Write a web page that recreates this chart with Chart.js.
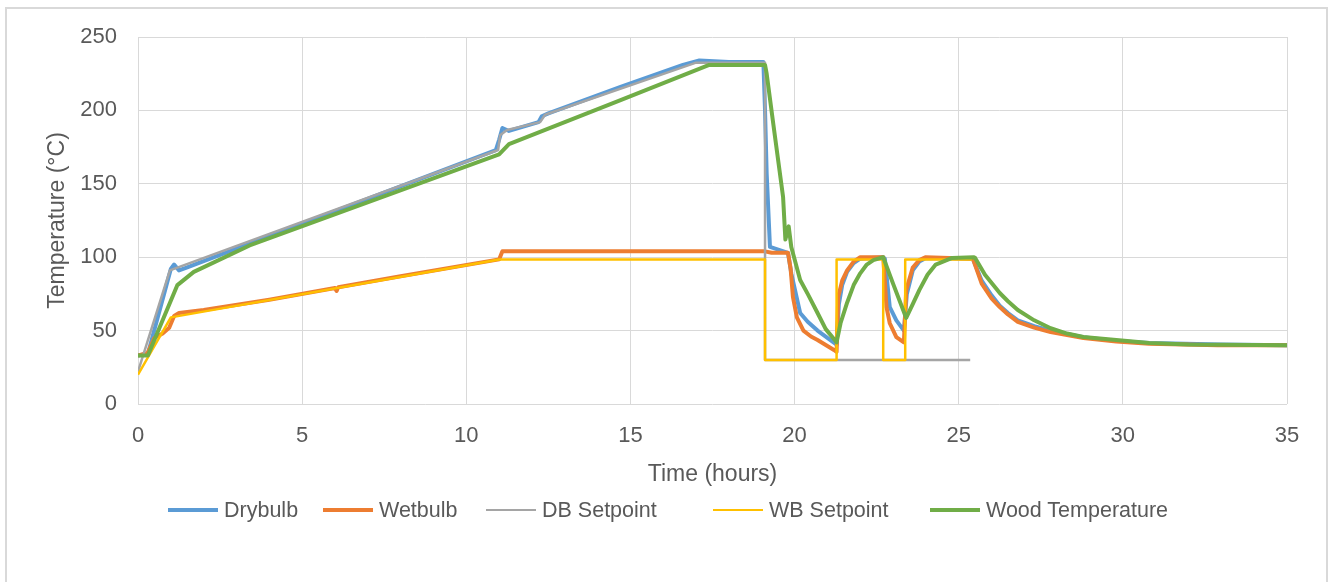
<!DOCTYPE html>
<html>
<head>
<meta charset="utf-8">
<script src="https://cdn.jsdelivr.net/npm/chart.js@4.4.1/dist/chart.umd.min.js"></script>
<style>
  body { margin: 0; background: #fff; font-family: "Liberation Sans", Arial, sans-serif; }
  #frame { position: absolute; left: 5px; top: 7px; width: 1319px; height: 600px; border: 2px solid #d9d9d9; }
  #myChart { position: absolute; left: 0; top: 0; }
  .leg { position: absolute; top: 497px; height: 26px; display: flex; align-items: center; font-size: 21.5px; color: #595959; white-space: nowrap; }
  .leg i { display: inline-block; width: 50px; margin-right: 6px; }
</style>
</head>
<body>
<div id="frame"></div>
<canvas id="myChart" width="1335" height="582"></canvas>
<div id="legend"></div>
<script>
const ctx = document.getElementById('myChart');

// time (hours) and temperature (°C)
const dryTime = [0, 0.3, 1.0, 1.1, 1.25, 1.5, 10.9, 11.0, 11.1, 11.3, 12.2, 12.3, 12.5, 14.7, 16.6, 17.1, 18, 19.05, 19.1, 19.15, 19.25, 19.8, 19.9, 20.17, 20.4, 20.7, 21.0, 21.28, 21.35, 21.45, 21.6, 21.8, 22.0, 22.7, 22.75, 22.9, 23.1, 23.33, 23.42, 23.6, 23.8, 24.0, 25.43, 25.7, 26.0, 26.25, 26.5, 26.8, 27.3, 27.8, 28.8, 29.8, 30.8, 33, 35];
const dryTemp = [33, 34, 92, 95, 91, 93, 173, 180, 188, 186, 192, 196, 198, 216, 231, 234, 233, 233, 200, 157, 107, 103, 89, 62, 56, 50, 45, 40.5, 68, 81, 90, 96, 99, 100, 99, 66, 57, 50, 75, 91, 97, 99.5, 99, 84, 74, 67, 62, 57, 53, 50, 45.5, 43, 41.5, 40.5, 40];

const wetTime = [0, 0.3, 0.5, 0.75, 0.95, 1.1, 1.25, 2, 4, 6, 6.05, 6.1, 8, 11.0, 11.1, 19.1, 19.3, 19.8, 19.88, 19.95, 20.07, 20.27, 20.5, 20.7, 21.0, 21.2, 21.28, 21.33, 21.45, 21.6, 21.8, 22.0, 22.7, 22.8, 22.9, 23.1, 23.33, 23.4, 23.6, 23.8, 24.0, 25.43, 25.7, 26.0, 26.25, 26.5, 26.8, 27.3, 27.8, 28.8, 29.8, 30.8, 32.9, 35];
const wetTemp = [33, 35, 45, 48, 52, 60, 62, 64, 71, 79, 77, 79.5, 87, 98.5, 104, 104, 103, 103, 92, 73, 59, 50, 46, 43.6, 39.5, 36.8, 35.5, 73, 84, 91, 97, 100, 100, 66, 55, 45.6, 42, 77.6, 93, 98, 100, 99, 82, 72, 66, 61, 56, 52, 49, 45, 42.5, 41, 40, 40];

const dbSetTime = [0, 0.97, 10.97, 11.03, 11.24, 12.25, 12.4, 17.0, 19.1, 19.1, 25.35];
const dbSetTemp = [22, 91, 173, 183, 186.6, 192, 197, 232.5, 232.5, 30, 30];

const wbSetTime = [0, 1.0, 11.0, 19.1, 19.1, 21.28, 21.28, 22.7, 22.7, 23.37, 23.37, 25.4];
const wbSetTemp = [20, 59, 98.5, 98.5, 30, 30, 98.5, 98.5, 30, 30, 98.5, 98.5];

const woodTime = [0, 0.3, 1.2, 1.7, 3.4, 11.0, 11.3, 14.7, 17.4, 19.1, 19.15, 19.35, 19.65, 19.72, 19.82, 19.9, 20.17, 20.4, 20.7, 20.95, 21.28, 21.4, 21.6, 21.8, 22.0, 22.2, 22.4, 22.7, 23.0, 23.4, 23.6, 23.8, 24.05, 24.3, 24.8, 25.45, 25.5, 25.8, 26.25, 26.5, 26.8, 27.3, 27.8, 28.3, 28.8, 29.8, 30.8, 32, 35];
const woodTemp = [33, 33, 81, 90, 108, 170, 177, 207, 231, 231, 225, 191, 141, 112, 121, 107, 84.5, 75, 62, 51, 42, 55, 69, 81, 89, 95, 98, 100, 82, 58.6, 68, 77.6, 88, 95, 99.5, 100, 99.5, 88, 75.6, 70, 64, 57, 51.6, 48, 45.6, 43.6, 41.5, 40.5, 40];

const xTicks = [0, 5, 10, 15, 20, 25, 30, 35];
const yTicks = [0, 50, 100, 150, 200, 250];

const series = [
  { label: 'Drybulb', t: dryTime, v: dryTemp, color: '#5B9BD5', width: 4, order: 5 },
  { label: 'Wetbulb', t: wetTime, v: wetTemp, color: '#ED7D31', width: 4, order: 4 },
  { label: 'DB Setpoint', t: dbSetTime, v: dbSetTemp, color: '#A5A5A5', width: 2.5, order: 3 },
  { label: 'WB Setpoint', t: wbSetTime, v: wbSetTemp, color: '#FFC000', width: 2.5, order: 2 },
  { label: 'Wood Temperature', t: woodTime, v: woodTemp, color: '#70AD47', width: 4, order: 1 }
];

const font = "'Liberation Sans', Arial, sans-serif";
const textColor = '#595959';
const gridColor = '#d9d9d9';

let myChart = new Chart(ctx, {
  type: 'line',
  data: {
    datasets: series.map(s => ({
      label: s.label,
      data: s.t.map((t, i) => ({ x: t, y: s.v[i] })),
      borderColor: s.color,
      backgroundColor: s.color,
      borderWidth: s.width,
      borderJoinStyle: 'round',
      pointRadius: 0,
      tension: 0,
      fill: false,
      order: s.order
    }))
  },
  options: {
    responsive: false,
    animation: false,
    devicePixelRatio: 1,
    layout: { padding: { left: 0, top: 37, right: 48, bottom: 0 } },
    plugins: { legend: { display: false }, tooltip: { enabled: false } },
    scales: {
      x: {
        type: 'linear',
        min: 0,
        max: 35,
        afterBuildTicks: scale => { scale.ticks = xTicks.map(v => ({ value: v })); },
        afterFit: scale => { scale.height = 178; },
        ticks: { color: textColor, font: { family: font, size: 22 }, padding: 19, maxRotation: 0 },
        grid: { color: gridColor, drawTicks: false },
        border: { display: false },
        title: { display: true, text: 'Time (hours)', color: textColor, font: { family: font, size: 23 }, padding: { top: 0, bottom: 94 } }
      },
      y: {
        min: 0,
        max: 250,
        afterBuildTicks: scale => { scale.ticks = yTicks.map(v => ({ value: v })); },
        afterFit: scale => { scale.width = 138; },
        ticks: { color: textColor, font: { family: font, size: 22 }, padding: 21 },
        grid: { color: gridColor, drawTicks: false },
        border: { display: false },
        title: { display: true, text: 'Temperature (°C)', color: textColor, font: { family: font, size: 23 }, padding: { top: 44, bottom: 0 } }
      }
    }
  }
});

// legend built from the same series list
const legendLeft = [168, 323, 486, 713, 930];
const legend = document.getElementById('legend');
series.forEach((s, i) => {
  const item = document.createElement('div');
  item.className = 'leg';
  item.style.left = legendLeft[i] + 'px';
  item.innerHTML = '<i style="height:' + s.width + 'px;background:' + s.color + '"></i>' + s.label;
  legend.appendChild(item);
});
</script>
</body>
</html>
